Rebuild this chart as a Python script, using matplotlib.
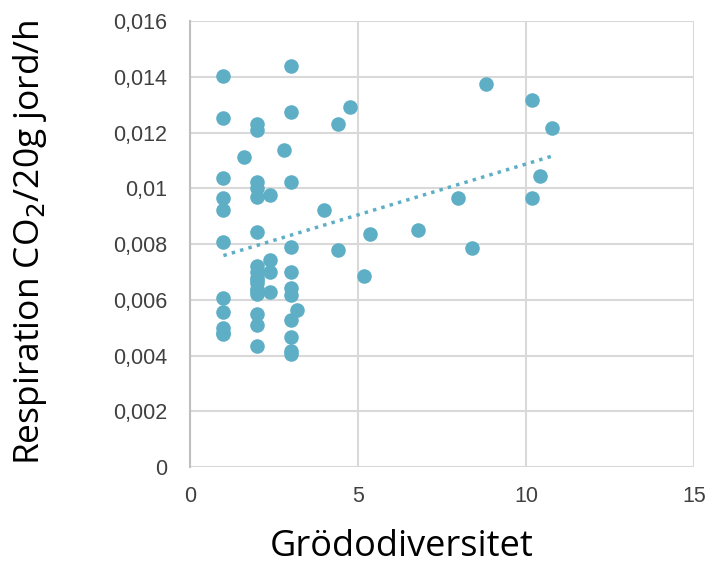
import numpy as np
import matplotlib
matplotlib.use("Agg")
import matplotlib.pyplot as plt
from matplotlib.ticker import FuncFormatter

# Grödodiversitet (x) and respiration (y)
x = [1, 1, 1, 1, 1, 1, 1, 1, 1, 1, 1,
     2, 2, 2, 2, 2, 2, 2, 2, 2, 2, 2, 2, 2, 2, 2, 2, 2,
     1.6, 2.4, 2.4, 2.4, 2.4, 2.8,
     3, 3, 3, 3, 3, 3, 3, 3, 3, 3, 3, 3.2,
     4.76, 4.41, 3.99, 4.41, 5.36, 5.18, 6.79, 7.98, 8.39, 8.81,
     10.18, 10.77, 10.42, 10.18]
y = [0.01403, 0.01252, 0.01037, 0.00965, 0.00922, 0.00807, 0.00606, 0.00556, 0.00499, 0.00477, 0.00480,
     0.01231, 0.01209, 0.01023, 0.01001, 0.00969, 0.00843, 0.0072, 0.0070, 0.0068, 0.0066, 0.0064,
     0.0062, 0.0055, 0.0051, 0.00434, 0.0067, 0.0063,
     0.01112, 0.00976, 0.00743, 0.00700, 0.00628, 0.01137,
     0.01439, 0.01274, 0.01023, 0.00789, 0.00700, 0.00642, 0.00617, 0.00527, 0.00466, 0.00416,
     0.00405, 0.00563,
     0.01293, 0.01231, 0.00922, 0.00779, 0.00836, 0.00685, 0.00850, 0.00965, 0.00786, 0.01374,
     0.01317, 0.01216, 0.01044, 0.00965]

color = "#5eafc6"
fig = plt.figure(figsize=(7.11, 5.63), dpi=100)
ax = fig.add_axes([0.267, 0.1705, 0.709, 0.792])

ax.scatter(x, y, s=110, color=color, zorder=3, linewidths=0)

# linear trend line
k, m = np.polyfit(x, y, 1)
xs = np.array([min(x), max(x)])
ax.plot(xs, k * xs + m, color=color, linestyle=(0, (1, 1.5)), linewidth=2.5, zorder=2)

ax.set_xlim(0, 15)
ax.set_ylim(0, 0.016)
ax.set_xticks([0, 5, 10, 15])
ax.set_yticks(np.arange(0, 0.0161, 0.002))
ax.yaxis.set_major_formatter(FuncFormatter(lambda v, p: f"{round(v, 4):g}".replace(".", ",")))
ax.grid(True, color="#d9d9d9", linewidth=1.5, zorder=0)
ax.set_axisbelow(True)
for s in ["top", "right", "bottom"]:
    ax.spines[s].set_visible(False)
ax.spines["left"].set_color("#bfbfbf")
ax.spines["left"].set_linewidth(1.5)
ax.tick_params(length=0, labelsize=15.5, colors="#404040")
ax.tick_params(axis="y", pad=16)
ax.tick_params(axis="x", pad=14)
for lab in ax.get_xticklabels() + ax.get_yticklabels():
    lab.set_fontfamily("Liberation Sans")

ax.set_xlabel("Grödodiversitet", fontsize=26, family="Open Sans")
ax.xaxis.set_label_coords(0.42, -0.138)
ax.set_ylabel("Respiration CO$_2$/20g jord/h", fontsize=25.5, family="Open Sans")
ax.yaxis.set_label_coords(-0.28, 0.505)

fig.savefig("out.png", dpi=100)
